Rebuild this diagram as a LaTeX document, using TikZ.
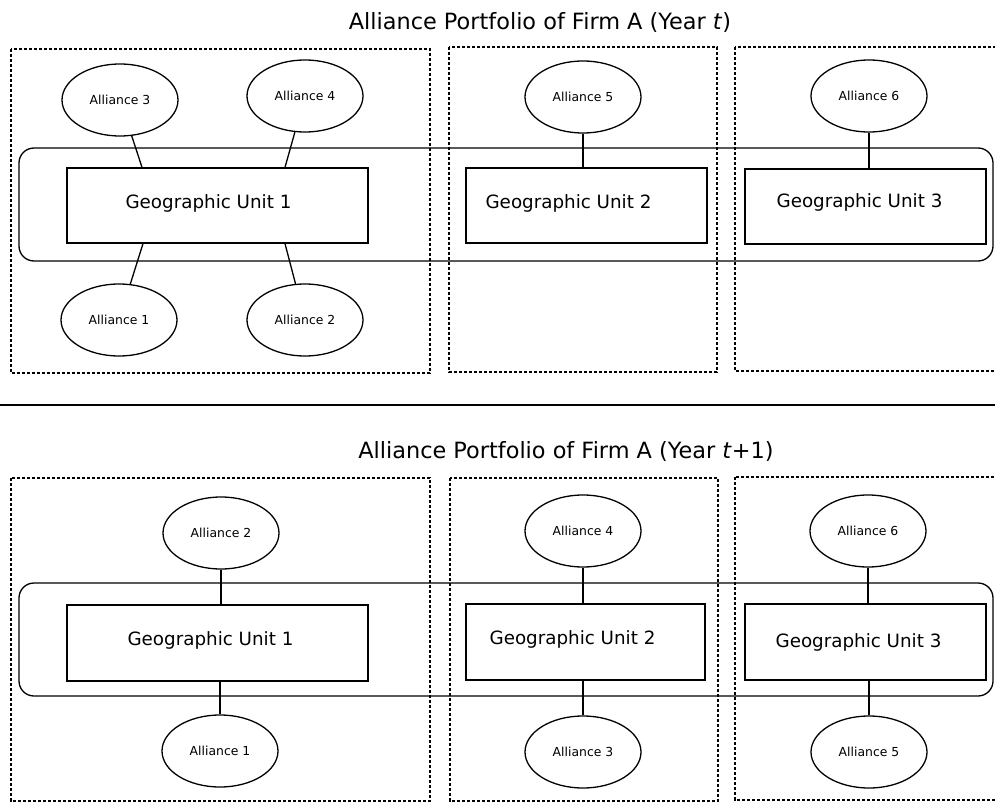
\documentclass[tikz,border=0pt]{standalone}
\usepackage{fontspec}
\setmainfont{DejaVu Sans}
\usetikzlibrary{shapes.geometric}

\tikzset{
	alliance/.style={draw, ellipse, line width=1.3pt, minimum width=116pt, minimum height=72pt, inner sep=0pt, font=\fontsize{12.4}{14}\selectfont},
	unitbox/.style={draw, rectangle, line width=1.3pt, inner sep=0pt},
	unittext/.style={font=\fontsize{18.3}{20}\selectfont},
	regionbox/.style={line width=2pt, dash pattern=on 3.3pt off 1.7pt},
	portfolio/.style={draw, rounded corners=15pt, line width=1.3pt},
	link/.style={line width=1.3pt},
	heading/.style={font=\fontsize{22.4}{26}\selectfont}
}

\begin{document}
\begin{tikzpicture}[x=1pt, y=-1pt]
	\useasboundingbox (0, 0) rectangle (995, 802);
	
	% year t
	\node[heading] (titleA) at (540, 22) {Alliance Portfolio of Firm A (Year \textit{t})};
	
	\draw[regionbox] (11, 49) rectangle (430, 373);
	\draw[regionbox] (449, 47) rectangle (717, 372);
	\draw[regionbox] (735, 47) rectangle (999, 371);
	
	\draw[portfolio] (19, 148) rectangle (993, 261);
	
	\node[unitbox, minimum width=301pt, minimum height=75pt,
		label={[unittext, xshift=-9pt, yshift=2pt]center:Geographic Unit 1}] (geoA1) at (217.5, 205.5) {};
	\node[unitbox, minimum width=241pt, minimum height=75pt,
		label={[unittext, xshift=-18pt, yshift=2pt]center:Geographic Unit 2}] (geoA2) at (586.5, 205.5) {};
	\node[unitbox, minimum width=241pt, minimum height=75pt,
		label={[unittext, xshift=-6pt, yshift=4pt]center:Geographic Unit 3}] (geoA3) at (865.5, 206.5) {};
	
	\node[alliance] (allA3) at (120, 100) {Alliance 3};
	\node[alliance] (allA4) at (305, 96) {Alliance 4};
	\node[alliance] (allA1) at (119, 320) {Alliance 1};
	\node[alliance] (allA2) at (305, 320) {Alliance 2};
	\node[alliance] (allA5) at (583, 97) {Alliance 5};
	\node[alliance] (allA6) at (869, 96) {Alliance 6};
	
	\draw[link] (allA3) -- (142, 0 |- geoA1.north);
	\draw[link] (allA4) -- (285, 0 |- geoA1.north);
	\draw[link] (allA1) -- (143, 0 |- geoA1.south);
	\draw[link] (allA2) -- (285, 0 |- geoA1.south);
	\draw[link] (allA5) -- (geoA2.north -| allA5);
	\draw[link] (allA6) -- (geoA3.north -| allA6);
	
	\draw[line width=1.3pt] (0, 405) -- (995, 405);
	
	% year t+1
	\node[heading] (titleB) at (566, 451) {Alliance Portfolio of Firm A (Year \textit{t}+1)};
	
	\draw[regionbox] (11, 478) rectangle (430, 801);
	\draw[regionbox] (450, 478) rectangle (718, 801);
	\draw[regionbox] (735, 477) rectangle (999, 800);
	
	\draw[portfolio] (19, 583) rectangle (993, 696);
	
	\node[unitbox, minimum width=301pt, minimum height=76pt,
		label={[unittext, xshift=-7pt, yshift=3pt]center:Geographic Unit 1}] (geoB1) at (217.5, 643) {};
	\node[unitbox, minimum width=239pt, minimum height=76pt,
		label={[unittext, xshift=-13pt, yshift=3pt]center:Geographic Unit 2}] (geoB2) at (585.5, 642) {};
	\node[unitbox, minimum width=241pt, minimum height=76pt,
		label={[unittext, xshift=-7pt, yshift=0pt]center:Geographic Unit 3}] (geoB3) at (865.5, 642) {};
	
	\node[alliance] (allB2) at (221, 533) {Alliance 2};
	\node[alliance] (allB1) at (220, 751) {Alliance 1};
	\node[alliance] (allB4) at (583, 531) {Alliance 4};
	\node[alliance] (allB3) at (583, 752) {Alliance 3};
	\node[alliance] (allB6) at (868, 531) {Alliance 6};
	\node[alliance] (allB5) at (869, 752) {Alliance 5};
	
	\draw[link] (allB2) -- (geoB1.north -| allB2);
	\draw[link] (allB1) -- (geoB1.south -| allB1);
	\draw[link] (allB4) -- (geoB2.north -| allB4);
	\draw[link] (allB3) -- (geoB2.south -| allB3);
	\draw[link] (allB6) -- (geoB3.north -| allB6);
	\draw[link] (allB5) -- (geoB3.south -| allB5);
	
\end{tikzpicture}
\end{document}
